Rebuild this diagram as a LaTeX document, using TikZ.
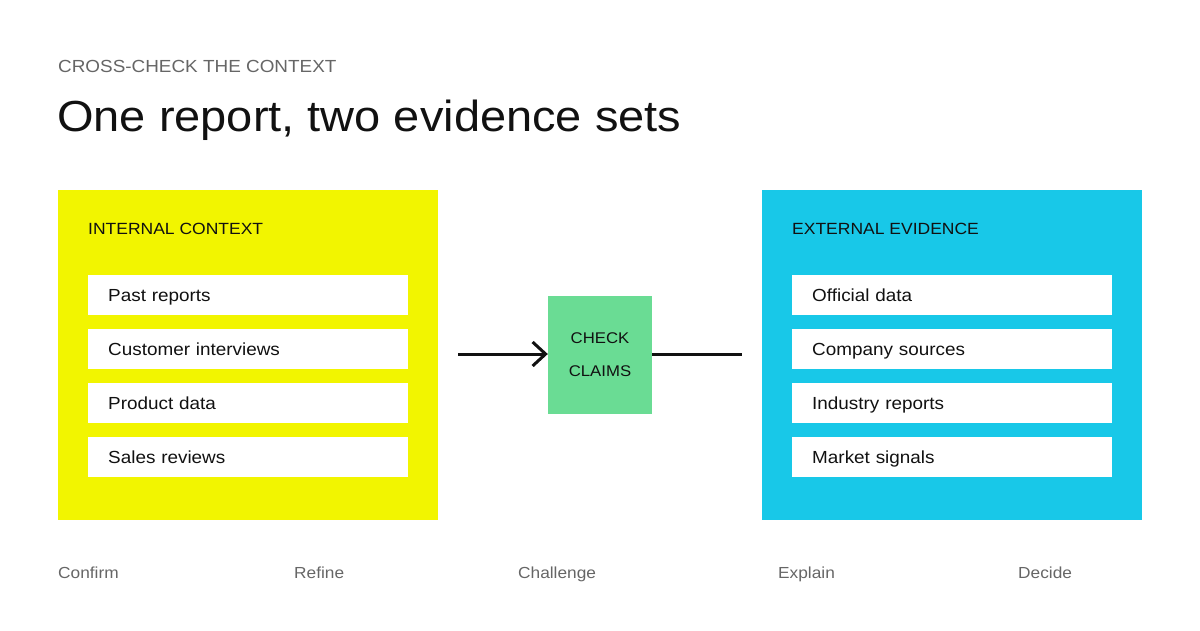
\documentclass[tikz,border=0pt]{standalone}
\usepackage{fontspec}
\setmainfont[FakeStretch=1.08]{Liberation Sans}
\usetikzlibrary{arrows.meta}

\definecolor{inyellow}{HTML}{F2F500}
\definecolor{exblue}{HTML}{18C8E8}
\definecolor{checkgreen}{HTML}{6ADC94}
\definecolor{softgray}{HTML}{666666}
\definecolor{ink}{HTML}{111111}

\tikzset{
  panel/.style={rectangle, minimum width=380, minimum height=330, anchor=north west, inner sep=0},
  paneltitle/.style={anchor=base west, inner sep=0, text=ink, font=\fontsize{16.2}{20}\selectfont},
  item/.style={rectangle, fill=white, minimum width=320, minimum height=40, anchor=west,
    inner sep=0, text height=13, text depth=0, text width=280, align=left, text=ink,
    font=\fontsize{17.5}{20}\selectfont},
  stage/.style={anchor=base west, inner sep=0, text=softgray, font=\fontsize{16}{19}\selectfont},
}

\begin{document}
\begin{tikzpicture}[x=1pt, y=-1pt]
        \useasboundingbox[fill=white] (0,0) rectangle (1200,630);

        % heading
        \node[anchor=base west, inner sep=0, text=softgray, font=\fontsize{17.5}{20}\selectfont] (kicker) at (58,72) {CROSS-CHECK THE CONTEXT};
        \node[anchor=base west, inner sep=0, text=ink, font=\fontsize{43.5}{48}\selectfont] (title) at (57,131) {One report, two evidence sets};

        % internal side
        \node[panel, fill=inyellow] (internal) at (58,190) {};
        \node[paneltitle] (intitle) at (88,234) {INTERNAL CONTEXT};
        \node[item] (past) at (88,295) {Past reports};
        \node[item] (interviews) at (88,349) {Customer interviews};
        \node[item] (product) at (88,403) {Product data};
        \node[item] (sales) at (88,457) {Sales reviews};

        % external side
        \node[panel, fill=exblue] (external) at (762,190) {};
        \node[paneltitle] (extitle) at (792,234) {EXTERNAL EVIDENCE};
        \node[item] (official) at (792,295) {Official data};
        \node[item] (company) at (792,349) {Company sources};
        \node[item] (industry) at (792,403) {Industry reports};
        \node[item] (market) at (792,457) {Market signals};

        % middle
        \node[rectangle, fill=checkgreen, minimum width=104, minimum height=118, inner sep=0,
          align=center, text=ink, font=\fontsize{15.5}{33}\selectfont] (check) at (600,355) {CHECK\\CLAIMS};
        \coordinate (infrom) at (458,354);
        \coordinate (outto) at (742,354);
        \draw[line width=3, ink, -{Straight Barb[length=13, width=24, line width=3]}] (infrom) -- (check.west |- infrom);
        \draw[line width=3, ink] (check.east |- outto) -- (outto);

        % stages
        \node[stage] (confirm) at (58,578) {Confirm};
        \node[stage] (refine) at (294,578) {Refine};
        \node[stage] (challenge) at (518,578) {Challenge};
        \node[stage] (explain) at (778,578) {Explain};
        \node[stage] (decide) at (1018,578) {Decide};
    \end{tikzpicture}
\end{document}
